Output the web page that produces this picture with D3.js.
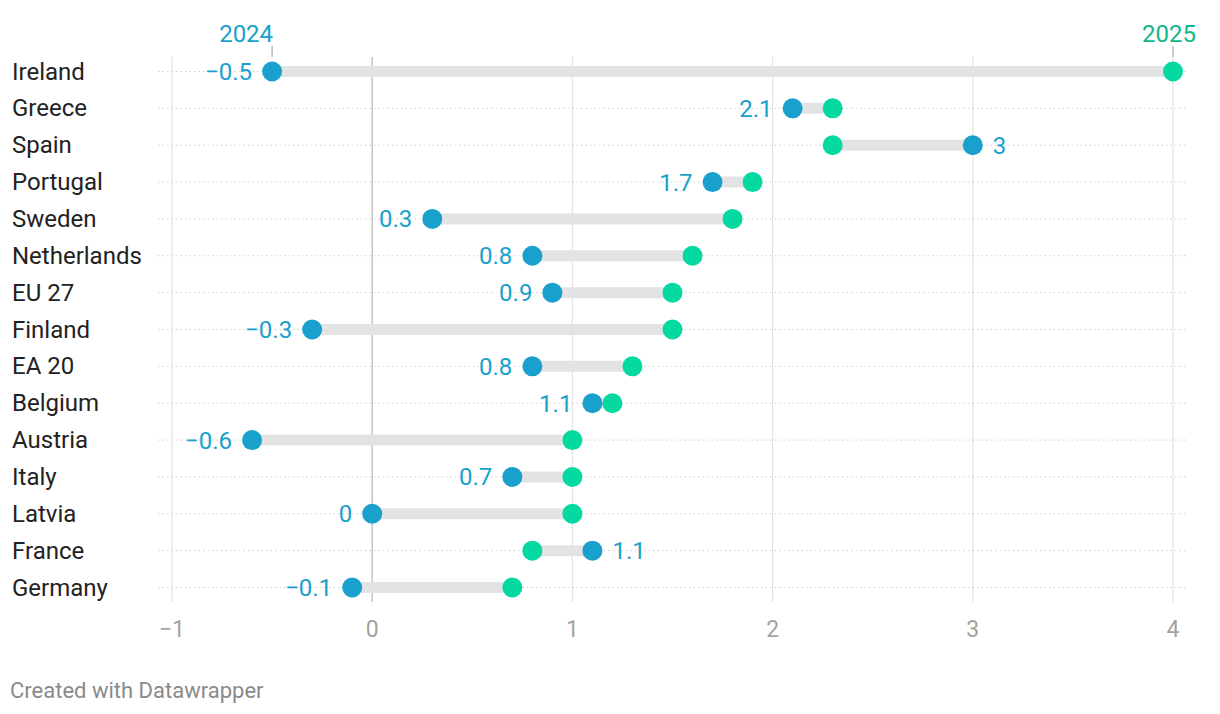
<!DOCTYPE html>
<html><head><meta charset="utf-8">
<script src="https://cdn.jsdelivr.net/npm/d3@7"></script>
<style>body{margin:0;background:#fff;font-family:Roboto,"Noto Sans",sans-serif}</style>
</head><body><svg id="c" width="1220" height="714"></svg>
<script>
const countries = ["Ireland","Greece","Spain","Portugal","Sweden","Netherlands","EU 27","Finland","EA 20","Belgium","Austria","Italy","Latvia","France","Germany"];
const values2024 = [-0.5,2.1,3,1.7,0.3,0.8,0.9,-0.3,0.8,1.1,-0.6,0.7,0,1.1,-0.1];
const values2025 = [4.0,2.3,2.3,1.9,1.8,1.6,1.5,1.5,1.3,1.2,1.0,1.0,1.0,0.8,0.7];
const xTicks = [-1,0,1,2,3,4];
const seriesNames = ["2024","2025"];

const c24 = "#1aa0cc", c25 = "#05d9a2", t25 = "#13b68a";
const svg = d3.select("#c");
const x = d3.scaleLinear().domain([-1,4]).range([172,1173]);
const y = d3.scalePoint().domain(countries).range([71.5,587.5]);

// vertical gridlines
svg.append("g").selectAll("line").data(xTicks).join("line")
  .attr("x1",d=>x(d)).attr("x2",d=>x(d)).attr("y1",57).attr("y2",602)
  .attr("stroke",d=>d===0?"#c4c4c4":"#e3e3e3").attr("stroke-width",d=>d===0?1.5:1.2);
// tick labels
svg.append("g").selectAll("text").data(xTicks).join("text")
  .attr("x",d=>x(d)).attr("y",637).attr("text-anchor","middle")
  .attr("font-size",23).attr("fill","#a3a3a3")
  .text(d=>d<0?"\u2212"+Math.abs(d):d);
// row dotted lines
svg.append("g").selectAll("line").data(countries).join("line")
  .attr("x1",158).attr("x2",1188).attr("y1",d=>y(d)).attr("y2",d=>y(d))
  .attr("stroke","#cfcfcf").attr("stroke-width",1).attr("stroke-dasharray","1.5,3");
// row labels
svg.append("g").selectAll("text").data(countries).join("text")
  .attr("x",12).attr("y",d=>y(d)+8).attr("font-size",24).attr("fill","#222")
  .text(d=>d);

const rows = countries.map((c,i)=>({c,a:values2024[i],b:values2025[i]}));
// range bars
svg.append("g").selectAll("line").data(rows).join("line")
  .attr("x1",d=>x(d.a)).attr("x2",d=>x(d.b)).attr("y1",d=>y(d.c)).attr("y2",d=>y(d.c))
  .attr("stroke","#e3e3e3").attr("stroke-width",11);
// dots
svg.append("g").selectAll("circle").data(rows).join("circle")
  .attr("cx",d=>x(d.b)).attr("cy",d=>y(d.c)).attr("r",10).attr("fill",c25);
svg.append("g").selectAll("circle").data(rows).join("circle")
  .attr("cx",d=>x(d.a)).attr("cy",d=>y(d.c)).attr("r",10).attr("fill",c24);
// value labels
const fmt = v => v<0 ? "\u2212"+Math.abs(v) : String(v);
svg.append("g").selectAll("text").data(rows).join("text")
  .attr("x",d=>d.a<=d.b ? x(d.a)-20 : x(d.a)+20)
  .attr("text-anchor",d=>d.a<=d.b?"end":"start")
  .attr("y",d=>y(d.c)+8.5).attr("font-size",24).attr("fill",c24)
  .text(d=>fmt(d.a));
// header series labels
const r0 = rows[0];
svg.append("line").attr("x1",x(r0.a)).attr("x2",x(r0.a)).attr("y1",46).attr("y2",57).attr("stroke","#aaa").attr("stroke-width",1.2);
svg.append("line").attr("x1",x(r0.b)).attr("x2",x(r0.b)).attr("y1",46).attr("y2",57).attr("stroke","#aaa").attr("stroke-width",1.2);
svg.append("text").attr("x",x(r0.a)+1).attr("y",42).attr("text-anchor","end").attr("font-size",24).attr("fill",c24).text(seriesNames[0]);
svg.append("text").attr("x",x(r0.b)-4).attr("y",42).attr("text-anchor","middle").attr("font-size",24).attr("fill",t25).text(seriesNames[1]);
// footer
svg.append("text").attr("x",10).attr("y",698).attr("font-size",22).attr("fill","#8a8a8a").text("Created with Datawrapper");
</script></body></html>
